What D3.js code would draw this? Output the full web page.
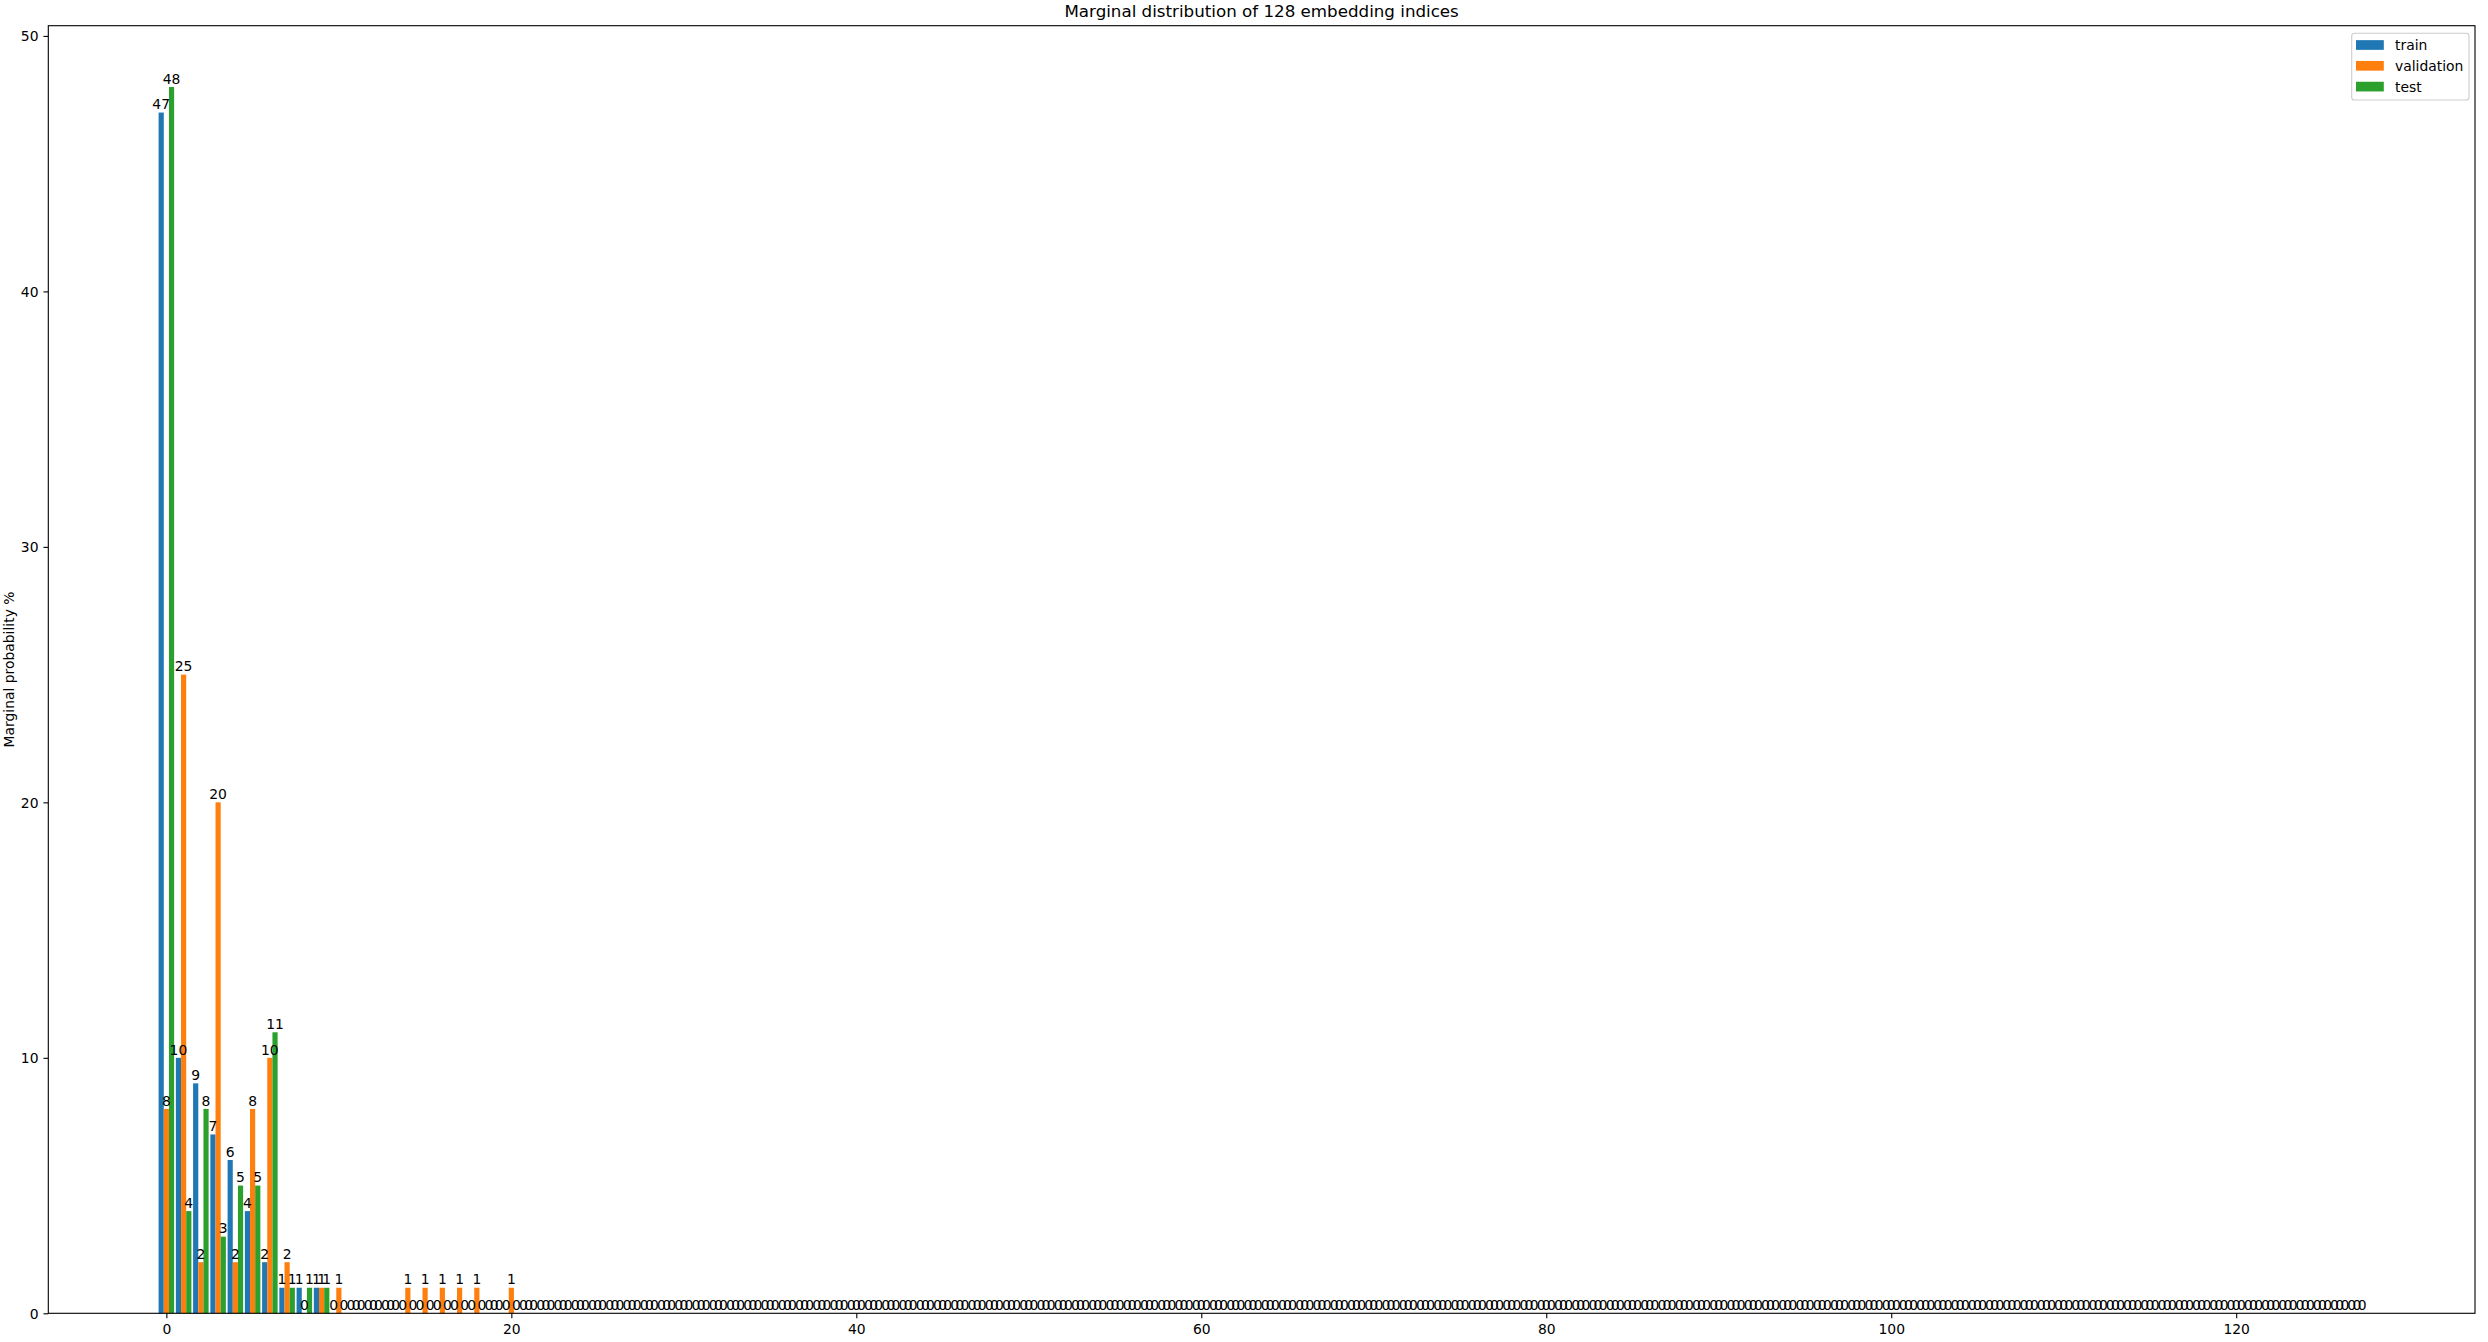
<!DOCTYPE html>
<html>
<head>
<meta charset="utf-8">
<script src="https://cdn.jsdelivr.net/npm/d3@7"></script>
<style>
  html, body { margin: 0; padding: 0; background: #ffffff; }
  svg { display: block; }
  text { font-family: "DejaVu Sans", sans-serif; fill: #000; }
</style>
</head>
<body>
<svg id="chart" width="2488" height="1342"></svg>
<script>
// ---------------- DATA ----------------
const title = "Marginal distribution of 128 embedding indices";
const yLabel = "Marginal probability %";
const seriesNames = ["train", "validation", "test"];
const categories = d3.range(128); // embedding indices 0..127

const train = [
  47,10,9,7,6,4,2,1,1,1,0,0,0,0,0,0,
  0,0,0,0,0,0,0,0,0,0,0,0,0,0,0,0,
  0,0,0,0,0,0,0,0,0,0,0,0,0,0,0,0,
  0,0,0,0,0,0,0,0,0,0,0,0,0,0,0,0,
  0,0,0,0,0,0,0,0,0,0,0,0,0,0,0,0,
  0,0,0,0,0,0,0,0,0,0,0,0,0,0,0,0,
  0,0,0,0,0,0,0,0,0,0,0,0,0,0,0,0,
  0,0,0,0,0,0,0,0,0,0,0,0,0,0,0,0
];
const validation = [
  8,25,2,20,2,8,10,2,0,1,1,0,0,0,1,1,
  1,1,1,0,1,0,0,0,0,0,0,0,0,0,0,0,
  0,0,0,0,0,0,0,0,0,0,0,0,0,0,0,0,
  0,0,0,0,0,0,0,0,0,0,0,0,0,0,0,0,
  0,0,0,0,0,0,0,0,0,0,0,0,0,0,0,0,
  0,0,0,0,0,0,0,0,0,0,0,0,0,0,0,0,
  0,0,0,0,0,0,0,0,0,0,0,0,0,0,0,0,
  0,0,0,0,0,0,0,0,0,0,0,0,0,0,0,0
];
const test = [
  48,4,8,3,5,5,11,1,1,1,0,0,0,0,0,0,
  0,0,0,0,0,0,0,0,0,0,0,0,0,0,0,0,
  0,0,0,0,0,0,0,0,0,0,0,0,0,0,0,0,
  0,0,0,0,0,0,0,0,0,0,0,0,0,0,0,0,
  0,0,0,0,0,0,0,0,0,0,0,0,0,0,0,0,
  0,0,0,0,0,0,0,0,0,0,0,0,0,0,0,0,
  0,0,0,0,0,0,0,0,0,0,0,0,0,0,0,0,
  0,0,0,0,0,0,0,0,0,0,0,0,0,0,0,0
];
const xTicks = [0, 20, 40, 60, 80, 100, 120];
const yTicks = [0, 10, 20, 30, 40, 50];

// ---------------- LAYOUT ----------------
const W = 2488, H = 1342;
const plot = { left: 48.3, right: 2475, top: 25.7, bottom: 1313.3 };
const colors = ["#1f77b4", "#ff7f0e", "#2ca02c"];
const barW = 0.3;
const offsets = [-0.3, 0, 0.3];
const fs = 13.9;

const svg = d3.select("#chart");

const series = [train, validation, test];
const lo = d3.min(categories) + offsets[0] - barW / 2;
const hi = d3.max(categories) + offsets[2] + barW / 2;
const xm = (hi - lo) * 0.05;
const x = d3.scaleLinear().domain([lo - xm, hi + xm]).range([plot.left, plot.right]);
const ymax = d3.max(series.flat()) * 1.05;
const y = d3.scaleLinear().domain([0, ymax]).range([plot.bottom, plot.top]);

// bars
series.forEach((vals, s) => {
  const g = svg.append("g");
  g.selectAll("rect").data(categories).enter().append("rect")
    .attr("x", i => x(i + offsets[s] - barW / 2))
    .attr("width", i => x(i + offsets[s] + barW / 2) - x(i + offsets[s] - barW / 2))
    .attr("y", i => y(vals[i]))
    .attr("height", i => y(0) - y(vals[i]))
    .attr("fill", colors[s]);
});

// bar labels
series.forEach((vals, s) => {
  const g = svg.append("g");
  g.selectAll("text").data(categories).enter().append("text")
    .attr("x", i => x(i + offsets[s]))
    .attr("y", i => y(vals[i]) - 3.3)
    .attr("text-anchor", "middle")
    .attr("font-size", fs)
    .text(i => vals[i]);
});

// axes
const xAxis = d3.axisBottom(x).tickValues(xTicks).tickSize(4.86).tickSizeOuter(0).tickFormat(d3.format("d"));
const gx = svg.append("g").attr("transform", `translate(0,${plot.bottom})`).call(xAxis);
gx.select(".domain").remove();
gx.selectAll(".tick line").attr("stroke", "#000").attr("stroke-width", 1.1);
gx.selectAll(".tick text").attr("y", 20.5).attr("dy", null)
  .attr("font-size", fs).attr("font-family", "DejaVu Sans").attr("fill", "#000");

const yAxis = d3.axisLeft(y).tickValues(yTicks).tickSize(4.86).tickSizeOuter(0).tickFormat(d3.format("d"));
const gy = svg.append("g").attr("transform", `translate(${plot.left},0)`).call(yAxis);
gy.select(".domain").remove();
gy.selectAll(".tick line").attr("stroke", "#000").attr("stroke-width", 1.1);
gy.selectAll(".tick text").attr("x", -9.8).attr("dy", "5px")
  .attr("font-size", fs).attr("font-family", "DejaVu Sans").attr("fill", "#000");

// spines
svg.append("rect")
  .attr("x", plot.left).attr("y", plot.top)
  .attr("width", plot.right - plot.left).attr("height", plot.bottom - plot.top)
  .attr("fill", "none").attr("stroke", "#000").attr("stroke-width", 1.1);

// title
svg.append("text")
  .attr("x", (plot.left + plot.right) / 2).attr("y", 17.2)
  .attr("text-anchor", "middle").attr("font-size", 16.7)
  .text(title);

// y label
svg.append("text")
  .attr("transform", `translate(13.6,${(plot.top + plot.bottom) / 2}) rotate(-90)`)
  .attr("text-anchor", "middle").attr("font-size", fs)
  .text(yLabel);

// legend
const lg = svg.append("g");
lg.append("rect")
  .attr("x", 2351.7).attr("y", 33.3).attr("width", 117.3).attr("height", 66.7)
  .attr("rx", 2.8).attr("ry", 2.8)
  .attr("fill", "#fff").attr("fill-opacity", 0.8)
  .attr("stroke", "#cccccc").attr("stroke-width", 1.1);
const rows = [45, 65.8, 86.6];
seriesNames.forEach((name, s) => {
  lg.append("rect")
    .attr("x", 2356).attr("y", rows[s] - 4.85).attr("width", 27.8).attr("height", 9.7)
    .attr("fill", colors[s]);
  lg.append("text")
    .attr("x", 2395).attr("y", rows[s] + 5)
    .attr("font-size", fs)
    .text(name);
});
</script>
</body>
</html>
